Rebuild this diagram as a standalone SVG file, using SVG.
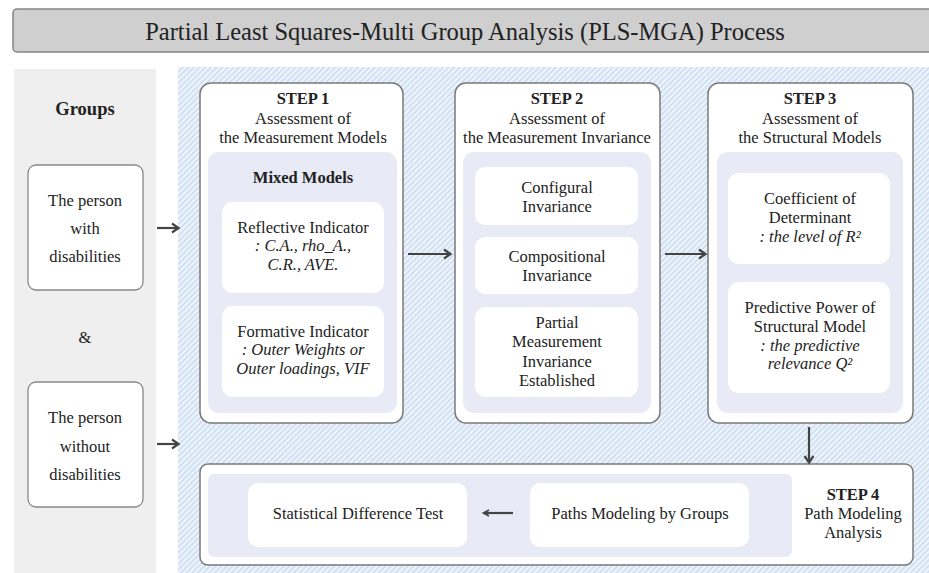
<svg xmlns="http://www.w3.org/2000/svg" width="929" height="573" viewBox="0 0 929 573" font-family="'Liberation Serif','Times New Roman',serif">
<defs>
<pattern id="hatch" width="4" height="4" patternUnits="userSpaceOnUse" patternTransform="rotate(45)">
<rect width="4" height="4" fill="#eef4fb"/>
<rect width="1.6" height="4" fill="#cadcf0"/>
</pattern>
<marker id="ah" markerWidth="12" markerHeight="12" refX="9" refY="6" orient="auto" markerUnits="userSpaceOnUse">
<path d="M3,1.5 L9.5,6 L3,10.5" fill="none" stroke="#444" stroke-width="2.2"/>
</marker>
<marker id="ahs" markerWidth="10" markerHeight="10" refX="7" refY="5" orient="auto" markerUnits="userSpaceOnUse">
<path d="M2,2 L7.5,5 L2,8" fill="none" stroke="#444" stroke-width="1.8"/>
</marker>
</defs>
<style>
text{font-family:"Liberation Serif","Times New Roman",serif;fill:#222;text-anchor:middle;font-size:16.5px}
.b{font-weight:bold}
.i{font-style:italic}
.step{fill:#fff;stroke:#7a7a7a;stroke-width:1.5}
.panel{fill:#e8ebf5}
.card{fill:#fff}
.grp{fill:#fff;stroke:#888;stroke-width:1.3}
.con{stroke:#444;stroke-width:2.2;fill:none}
</style>
<rect x="0" y="0" width="929" height="573" fill="#fff"/>
<g id="title">
<rect x="13" y="9" width="930" height="43" rx="4" fill="#cfcfcf" stroke="#858585" stroke-width="1.5"/>
<text x="465" y="40" style="font-size:24.5px">Partial Least Squares-Multi Group Analysis (PLS-MGA) Process</text>
</g>
<rect x="14" y="69" width="142" height="504" fill="#efefef"/>
<rect x="178" y="67" width="751" height="506" fill="url(#hatch)"/>
<g id="groups">
<text x="85" y="115" class="b" style="font-size:18.5px">Groups</text>
<text x="85" y="343">&amp;</text>
</g>
<g id="g-with">
<rect class="grp" x="28" y="165" width="115" height="125" rx="8"/>
<text x="85" y="206">The person</text>
<text x="85" y="234">with</text>
<text x="85" y="262">disabilities</text>
</g>
<g id="g-without">
<rect class="grp" x="28" y="382" width="115" height="125" rx="8"/>
<text x="85" y="423">The person</text>
<text x="85" y="452">without</text>
<text x="85" y="480">disabilities</text>
</g>
<g id="step1">
<rect class="step" x="200" y="83" width="203" height="340" rx="11"/>
<text x="303" y="104" class="b">STEP 1</text>
<text x="303" y="124">Assessment of</text>
<text x="303" y="143">the Measurement Models</text>
<rect class="panel" x="208" y="152" width="189" height="261" rx="11"/>
<text x="303" y="183" class="b">Mixed Models</text>
</g>
<g id="reflective">
<rect class="card" x="222" y="202" width="162" height="91" rx="11"/>
<text x="303" y="233">Reflective Indicator</text>
<text x="303" y="251" class="i">: C.A., rho_A.,</text>
<text x="303" y="270" class="i">C.R., AVE.</text>
</g>
<g id="formative">
<rect class="card" x="222" y="306" width="162" height="91" rx="11"/>
<text x="303" y="337">Formative Indicator</text>
<text x="303" y="355" class="i">: Outer Weights or</text>
<text x="303" y="374" class="i">Outer loadings, VIF</text>
</g>
<g id="step2">
<rect class="step" x="455" y="83" width="205" height="340" rx="11"/>
<text x="557" y="104" class="b">STEP 2</text>
<text x="557" y="124">Assessment of</text>
<text x="557" y="143">the Measurement Invariance</text>
<rect class="panel" x="463" y="152" width="188" height="261" rx="11"/>
</g>
<g id="configural">
<rect class="card" x="475" y="167" width="163" height="58" rx="10"/>
<text x="557" y="193">Configural</text>
<text x="557" y="212">Invariance</text>
</g>
<g id="compositional">
<rect class="card" x="475" y="237" width="163" height="57" rx="10"/>
<text x="557" y="262">Compositional</text>
<text x="557" y="281">Invariance</text>
</g>
<g id="partial">
<rect class="card" x="475" y="307" width="163" height="90" rx="11"/>
<text x="557" y="328">Partial</text>
<text x="557" y="347">Measurement</text>
<text x="557" y="367">Invariance</text>
<text x="557" y="386">Established</text>
</g>
<g id="step3">
<rect class="step" x="708" y="83" width="205" height="340" rx="11"/>
<text x="810" y="104" class="b">STEP 3</text>
<text x="810" y="124">Assessment of</text>
<text x="810" y="143">the Structural Models</text>
<rect class="panel" x="717" y="152" width="186" height="261" rx="11"/>
</g>
<g id="coefficient">
<rect class="card" x="728" y="173" width="162" height="91" rx="11"/>
<text x="810" y="204">Coefficient of</text>
<text x="810" y="223">Determinant</text>
<text x="810" y="242" class="i">: the level of R²</text>
</g>
<g id="predictive">
<rect class="card" x="728" y="282" width="162" height="111" rx="11"/>
<text x="810" y="313">Predictive Power of</text>
<text x="810" y="332">Structural Model</text>
<text x="810" y="351" class="i">: the predictive</text>
<text x="810" y="369" class="i">relevance Q²</text>
</g>
<g id="step4">
<rect class="step" x="200" y="464" width="713" height="101" rx="8"/>
<rect class="panel" x="208" y="474" width="584" height="83" rx="6"/>
<text x="853" y="500" class="b">STEP 4</text>
<text x="853" y="519">Path Modeling</text>
<text x="853" y="538">Analysis</text>
</g>
<g id="statistical">
<rect class="card" x="248" y="483" width="219" height="64" rx="10"/>
<text x="358" y="519">Statistical Difference Test</text>
</g>
<g id="paths">
<rect class="card" x="530" y="483" width="219" height="64" rx="10"/>
<text x="640" y="519">Paths Modeling by Groups</text>
</g>
<g id="connectors">
<line class="con" x1="157" y1="228" x2="178" y2="228" marker-end="url(#ah)"/>
<line class="con" x1="157" y1="444" x2="178" y2="444" marker-end="url(#ah)"/>
<line class="con" x1="408" y1="254" x2="450" y2="254" marker-end="url(#ah)"/>
<line class="con" x1="665" y1="254" x2="705" y2="254" marker-end="url(#ah)"/>
<line class="con" x1="809" y1="427" x2="809" y2="462" marker-end="url(#ah)"/>
<line class="con" x1="513" y1="513" x2="484" y2="513" stroke-width="1.8" marker-end="url(#ahs)"/>
</g>
</svg>
